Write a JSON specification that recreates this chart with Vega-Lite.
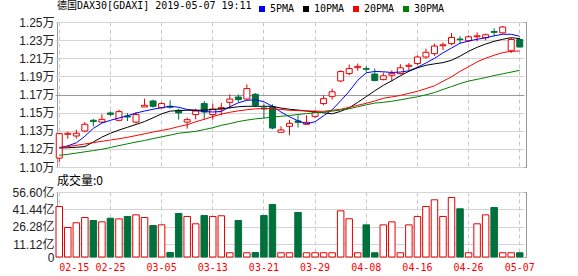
{
  "$schema": "https://vega.github.io/schema/vega-lite/v6.json",
  "padding": {"left": 0, "top": 0, "right": 0, "bottom": 0},
  "background": "white",
  "spacing": 0,
  "resolve": {"scale": {"y": "independent", "x": "shared"}},
  "config": {
    "font": "Liberation Sans, Noto Sans CJK SC",
    "view": {"stroke": "#999999", "strokeWidth": 1},
    "axis": {"gridColor": "#d4d4d4", "gridWidth": 1, "domain": false, "ticks": false, "title": null, "labelColor": "#222222", "labelOverlap": false},
    "title": {"fontWeight": "normal", "color": "#000000", "anchor": "start", "frame": "group"}
  },
  "data": {"values": [
    {"date":"2019-02-15","open":11092,"high":11354,"low":11052,"close":11345,"volume":44.0,"ma5":11199,"ma10":11197,"ma20":11201,"ma30":11121},
    {"date":"2019-02-18","open":11338,"high":11364,"low":11292,"close":11349,"volume":25.7,"ma5":11219,"ma10":11199,"ma20":11211,"ma30":11131},
    {"date":"2019-02-19","open":11321,"high":11387,"low":11294,"close":11349,"volume":29.8,"ma5":11250,"ma10":11204,"ma20":11224,"ma30":11144},
    {"date":"2019-02-20","open":11372,"high":11466,"low":11359,"close":11442,"volume":34.4,"ma5":11318,"ma10":11211,"ma20":11238,"ma30":11157},
    {"date":"2019-02-21","open":11483,"high":11497,"low":11421,"close":11470,"volume":31.8,"ma5":11400,"ma10":11259,"ma20":11252,"ma30":11170},
    {"date":"2019-02-22","open":11465,"high":11545,"low":11455,"close":11493,"volume":30.6,"ma5":11454,"ma10":11309,"ma20":11266,"ma30":11183},
    {"date":"2019-02-25","open":11559,"high":11576,"low":11528,"close":11545,"volume":33.8,"ma5":11483,"ma10":11349,"ma20":11279,"ma30":11202},
    {"date":"2019-02-26","open":11483,"high":11594,"low":11473,"close":11573,"volume":33.2,"ma5":11507,"ma10":11382,"ma20":11292,"ma30":11221},
    {"date":"2019-02-27","open":11528,"high":11559,"low":11476,"close":11517,"volume":35.3,"ma5":11530,"ma10":11411,"ma20":11307,"ma30":11240},
    {"date":"2019-02-28","open":11465,"high":11569,"low":11449,"close":11542,"volume":36.7,"ma5":11558,"ma10":11440,"ma20":11325,"ma30":11258},
    {"date":"2019-03-01","open":11621,"high":11707,"low":11621,"close":11638,"volume":34.4,"ma5":11579,"ma10":11470,"ma20":11343,"ma30":11274},
    {"date":"2019-03-04","open":11683,"high":11697,"low":11614,"close":11628,"volume":27.4,"ma5":11597,"ma10":11509,"ma20":11362,"ma30":11294},
    {"date":"2019-03-05","open":11612,"high":11669,"low":11607,"close":11656,"volume":28.0,"ma5":11614,"ma10":11550,"ma20":11378,"ma30":11312},
    {"date":"2019-03-06","open":11628,"high":11690,"low":11604,"close":11618,"volume":3.9,"ma5":11628,"ma10":11578,"ma20":11395,"ma30":11330},
    {"date":"2019-03-07","open":11586,"high":11604,"low":11490,"close":11559,"volume":37.9,"ma5":11618,"ma10":11584,"ma20":11418,"ma30":11349},
    {"date":"2019-03-08","open":11465,"high":11511,"low":11397,"close":11490,"volume":35.3,"ma5":11595,"ma10":11587,"ma20":11437,"ma30":11359},
    {"date":"2019-03-11","open":11542,"high":11604,"low":11493,"close":11579,"volume":28.9,"ma5":11587,"ma10":11587,"ma20":11468,"ma30":11369},
    {"date":"2019-03-12","open":11656,"high":11683,"low":11490,"close":11569,"volume":36.1,"ma5":11573,"ma10":11589,"ma20":11493,"ma30":11387},
    {"date":"2019-03-13","open":11542,"high":11656,"low":11490,"close":11600,"volume":35.3,"ma5":11569,"ma10":11594,"ma20":11521,"ma30":11406},
    {"date":"2019-03-14","open":11600,"high":11662,"low":11535,"close":11614,"volume":35.9,"ma5":11574,"ma10":11602,"ma20":11547,"ma30":11431},
    {"date":"2019-03-15","open":11669,"high":11752,"low":11604,"close":11703,"volume":3.7,"ma5":11623,"ma10":11612,"ma20":11566,"ma30":11449},
    {"date":"2019-03-18","open":11724,"high":11752,"low":11672,"close":11697,"volume":31.8,"ma5":11664,"ma10":11623,"ma20":11581,"ma30":11470},
    {"date":"2019-03-19","open":11703,"high":11855,"low":11697,"close":11811,"volume":3.7,"ma5":11690,"ma10":11628,"ma20":11592,"ma30":11485},
    {"date":"2019-03-20","open":11752,"high":11765,"low":11621,"close":11638,"volume":3.9,"ma5":11695,"ma10":11628,"ma20":11602,"ma30":11498},
    {"date":"2019-03-21","open":11610,"high":11656,"low":11500,"close":11600,"volume":36.1,"ma5":11675,"ma10":11628,"ma20":11605,"ma30":11506},
    {"date":"2019-03-22","open":11618,"high":11649,"low":11390,"close":11403,"volume":45.7,"ma5":11628,"ma10":11628,"ma20":11603,"ma30":11516},
    {"date":"2019-03-25","open":11359,"high":11421,"low":11359,"close":11383,"volume":3.7,"ma5":11569,"ma10":11610,"ma20":11595,"ma30":11525},
    {"date":"2019-03-26","open":11421,"high":11488,"low":11328,"close":11452,"volume":3.7,"ma5":11519,"ma10":11597,"ma20":11587,"ma30":11532},
    {"date":"2019-03-27","open":11476,"high":11535,"low":11408,"close":11462,"volume":38.8,"ma5":11478,"ma10":11589,"ma20":11583,"ma30":11543},
    {"date":"2019-03-28","open":11442,"high":11535,"low":11442,"close":11462,"volume":3.7,"ma5":11447,"ma10":11579,"ma20":11580,"ma30":11553},
    {"date":"2019-03-29","open":11524,"high":11587,"low":11504,"close":11566,"volume":3.7,"ma5":11468,"ma10":11571,"ma20":11578,"ma30":11560},
    {"date":"2019-04-01","open":11656,"high":11742,"low":11638,"close":11707,"volume":3.7,"ma5":11530,"ma10":11561,"ma20":11576,"ma30":11568},
    {"date":"2019-04-02","open":11731,"high":11811,"low":11697,"close":11778,"volume":3.7,"ma5":11592,"ma10":11550,"ma20":11587,"ma30":11578},
    {"date":"2019-04-03","open":11890,"high":12000,"low":11879,"close":11987,"volume":40.2,"ma5":11685,"ma10":11576,"ma20":11597,"ma30":11590},
    {"date":"2019-04-04","open":11966,"high":12060,"low":11949,"close":12018,"volume":33.3,"ma5":11783,"ma10":11612,"ma20":11618,"ma30":11602},
    {"date":"2019-04-05","open":12028,"high":12070,"low":11995,"close":12042,"volume":3.7,"ma5":11897,"ma10":11669,"ma20":11638,"ma30":11623},
    {"date":"2019-04-08","open":12018,"high":12042,"low":11985,"close":12011,"volume":28.0,"ma5":11975,"ma10":11728,"ma20":11659,"ma30":11643},
    {"date":"2019-04-09","open":11962,"high":12018,"low":11887,"close":11894,"volume":3.7,"ma5":11988,"ma10":11788,"ma20":11682,"ma30":11661},
    {"date":"2019-04-10","open":11904,"high":11977,"low":11897,"close":11943,"volume":28.0,"ma5":11985,"ma10":11845,"ma20":11711,"ma30":11669},
    {"date":"2019-04-11","open":11949,"high":12000,"low":11887,"close":11969,"volume":30.6,"ma5":11978,"ma10":11892,"ma20":11725,"ma30":11680},
    {"date":"2019-04-12","open":11966,"high":12064,"low":11956,"close":12026,"volume":3.7,"ma5":11982,"ma10":11943,"ma20":11740,"ma30":11695},
    {"date":"2019-04-15","open":12042,"high":12075,"low":12000,"close":12052,"volume":28.0,"ma5":11995,"ma10":11990,"ma20":11762,"ma30":11711},
    {"date":"2019-04-16","open":12070,"high":12156,"low":12052,"close":12138,"volume":35.3,"ma5":12031,"ma10":12026,"ma20":11783,"ma30":11726},
    {"date":"2019-04-17","open":12138,"high":12225,"low":12121,"close":12187,"volume":44.0,"ma5":12076,"ma10":12052,"ma20":11811,"ma30":11747},
    {"date":"2019-04-18","open":12173,"high":12277,"low":12150,"close":12251,"volume":49.8,"ma5":12124,"ma10":12067,"ma20":11840,"ma30":11770},
    {"date":"2019-04-23","open":12254,"high":12290,"low":12210,"close":12264,"volume":35.3,"ma5":12181,"ma10":12080,"ma20":11887,"ma30":11802},
    {"date":"2019-04-24","open":12276,"high":12385,"low":12259,"close":12340,"volume":51.8,"ma5":12231,"ma10":12104,"ma20":11933,"ma30":11832},
    {"date":"2019-04-25","open":12324,"high":12354,"low":12276,"close":12318,"volume":42.0,"ma5":12280,"ma10":12147,"ma20":11990,"ma30":11863},
    {"date":"2019-04-26","open":12306,"high":12362,"low":12293,"close":12347,"volume":3.7,"ma5":12303,"ma10":12197,"ma20":12037,"ma30":11889},
    {"date":"2019-04-29","open":12347,"high":12393,"low":12300,"close":12357,"volume":28.9,"ma5":12321,"ma10":12238,"ma20":12088,"ma30":11907},
    {"date":"2019-04-30","open":12337,"high":12380,"low":12311,"close":12368,"volume":36.7,"ma5":12337,"ma10":12272,"ma20":12125,"ma30":11925},
    {"date":"2019-05-02","open":12401,"high":12435,"low":12352,"close":12393,"volume":43.1,"ma5":12357,"ma10":12300,"ma20":12156,"ma30":11946},
    {"date":"2019-05-03","open":12388,"high":12459,"low":12380,"close":12448,"volume":3.7,"ma5":12373,"ma10":12321,"ma20":12183,"ma30":11964},
    {"date":"2019-05-06","open":12202,"high":12334,"low":12179,"close":12319,"volume":3.7,"ma5":12373,"ma10":12338,"ma20":12197,"ma30":11982},
    {"date":"2019-05-07","open":12319,"high":12334,"low":12241,"close":12241,"volume":3.7,"ma5":12352,"ma10":12328,"ma20":12200,"ma30":12000}
  ]},
  "vconcat": [
    {
      "width": 469,
      "height": 145,
      "title": {"text": "德国DAX30[GDAXI] 2019-05-07 19:11", "font": "DejaVu Sans Mono, Noto Sans CJK SC", "fontSize": 10, "offset": 5},
      "encoding": {
        "x": {"field": "date", "type": "ordinal", "scale": {"paddingInner": 0, "paddingOuter": 0, "range": [-2, 467]},
          "axis": {"values": ["2019-02-15","2019-02-25","2019-03-05","2019-03-13","2019-03-21","2019-03-29","2019-04-08","2019-04-16","2019-04-26","2019-05-07"],
            "labels": false, "ticks": false, "domain": false, "grid": true, "gridDash": [4, 3], "gridColor": "#c8c8c8", "bandPosition": 0.5, "minExtent": 0, "maxExtent": 0, "labelPadding": 0}}
      },
      "layer": [
        {
          "mark": {"type": "rule", "strokeWidth": 1},
          "encoding": {
            "y": {"field": "low", "type": "quantitative", "scale": {"domain": [11000, 12500], "zero": false, "nice": false},
              "axis": {"values": [11000, 11187.5, 11375, 11562.5, 11750, 11937.5, 12125, 12312.5, 12500], "grid": true,
                "labelExpr": "['1.10万','1.12万','1.13万','1.15万','1.17万','1.19万','1.21万','1.23万','1.25万'][round((datum.value - 11000) / 187.5)]",
                "labelFontSize": 12, "labelPadding": 3, "minExtent": 56, "maxExtent": 56, "labelOverlap": false,
                "gridColor": {"condition": {"test": "datum.value == 11750", "value": "#999999"}, "value": "#d4d4d4"}}},
            "y2": {"field": "high"},
            "color": {"condition": {"test": "datum.close >= datum.open", "value": "#e60000"}, "value": "#00703c"}
          }
        },
        {
          "mark": {"type": "bar", "size": 6, "strokeWidth": 1},
          "encoding": {
            "y": {"field": "open", "type": "quantitative",
              "axis": {"values": [11000, 11187.5, 11375, 11562.5, 11750, 11937.5, 12125, 12312.5, 12500], "grid": true,
                "labelExpr": "['1.10万','1.12万','1.13万','1.15万','1.17万','1.19万','1.21万','1.23万','1.25万'][round((datum.value - 11000) / 187.5)]",
                "labelFontSize": 12, "labelPadding": 3, "minExtent": 56, "maxExtent": 56, "labelOverlap": false,
                "gridColor": {"condition": {"test": "datum.value == 11750", "value": "#999999"}, "value": "#d4d4d4"}}},
            "y2": {"field": "close"},
            "fill": {"condition": {"test": "datum.close >= datum.open", "value": "#ffffff"}, "value": "#00703c"},
            "stroke": {"condition": {"test": "datum.close >= datum.open", "value": "#e60000"}, "value": "#00703c"}
          }
        },
        {
          "transform": [{"fold": ["ma5", "ma10", "ma20", "ma30"], "as": ["ma", "value"]}],
          "mark": {"type": "line", "strokeWidth": 1},
          "encoding": {
            "y": {"field": "value", "type": "quantitative",
              "axis": {"values": [11000, 11187.5, 11375, 11562.5, 11750, 11937.5, 12125, 12312.5, 12500], "grid": true,
                "labelExpr": "['1.10万','1.12万','1.13万','1.15万','1.17万','1.19万','1.21万','1.23万','1.25万'][round((datum.value - 11000) / 187.5)]",
                "labelFontSize": 12, "labelPadding": 3, "minExtent": 56, "maxExtent": 56, "labelOverlap": false,
                "gridColor": {"condition": {"test": "datum.value == 11750", "value": "#999999"}, "value": "#d4d4d4"}}},
            "color": {"field": "ma", "type": "nominal",
              "scale": {"domain": ["ma5", "ma10", "ma20", "ma30"], "range": ["#0000ff", "#000000", "#ff0000", "#008000"]},
              "legend": {"orient": "none", "legendX": 200, "legendY": -18, "direction": "horizontal", "title": null,
                "symbolType": "square", "symbolSize": 36, "symbolStrokeWidth": 0,
                "labelFont": "DejaVu Sans Mono", "labelFontSize": 10, "columnPadding": 6, "labelOffset": 3,
                "labelExpr": "datum.value == 'ma5' ? '5PMA' : datum.value == 'ma10' ? '10PMA' : datum.value == 'ma20' ? '20PMA' : '30PMA'",
                "encode": {"symbols": {"update": {"fill": {"scale": "color", "field": "value"}, "opacity": {"value": 1}}}}}}
          }
        }
      ]
    },
    {
      "width": 469,
      "height": 65,
      "title": {"text": "成交量:0", "font": "Noto Sans CJK SC", "fontSize": 12, "offset": -2},
      "mark": {"type": "bar", "size": 6.5, "strokeWidth": 1},
      "encoding": {
        "x": {"field": "date", "type": "ordinal", "scale": {"paddingInner": 0, "paddingOuter": 0, "range": [-2, 467]},
          "axis": {"values": ["2019-02-15","2019-02-25","2019-03-05","2019-03-13","2019-03-21","2019-03-29","2019-04-08","2019-04-16","2019-04-26","2019-05-07"],
            "labelExpr": "substring(datum.value, 5)", "labelAngle": 0, "labelColor": "#ff0000", "labelFont": "DejaVu Sans Mono", "labelFontSize": 10,
            "labelAlign": {"condition": {"test": "datum.value == '2019-02-15'", "value": "left"}, "value": "center"},
            "labelPadding": 5, "grid": true, "gridDash": [4, 3], "gridColor": "#c8c8c8", "bandPosition": 0.5}},
        "y": {"field": "volume", "type": "quantitative", "scale": {"domain": [0, 56.6], "nice": false, "zero": true},
          "axis": {"values": [0, 11.12, 26.28, 41.44, 56.6],
            "labelExpr": "datum.value == 0 ? '0' : format(datum.value, '.2f') + '亿'",
            "labelFontSize": 12, "labelPadding": 3, "minExtent": 56, "maxExtent": 56, "labelOverlap": false}},
        "fill": {"condition": {"test": "datum.close >= datum.open", "value": "#ffffff"}, "value": "#00703c"},
        "stroke": {"condition": {"test": "datum.close >= datum.open", "value": "#e60000"}, "value": "#00703c"}
      }
    }
  ]
}
